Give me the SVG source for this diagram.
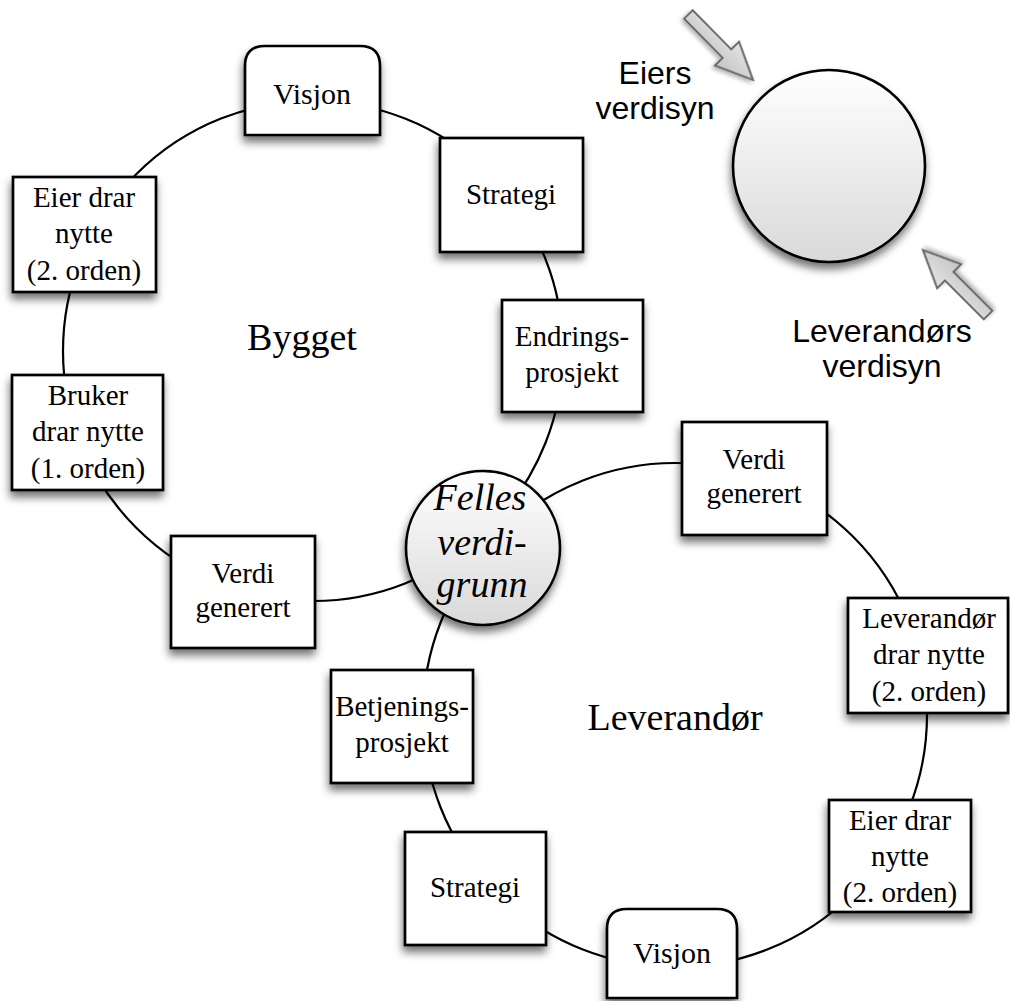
<svg xmlns="http://www.w3.org/2000/svg" width="1010" height="1001" viewBox="0 0 1010 1001">
  <defs>
    <filter id="shadow" x="-20%" y="-20%" width="140%" height="150%">
      <feDropShadow dx="-1" dy="6" stdDeviation="4" flood-color="#000" flood-opacity="0.55"/>
    </filter>
    <filter id="softShadow" x="-20%" y="-20%" width="140%" height="150%">
      <feDropShadow dx="0" dy="3" stdDeviation="2" flood-color="#000" flood-opacity="0.3"/>
    </filter>
    <linearGradient id="ballFill" x1="0" y1="0" x2="0" y2="1">
      <stop offset="0" stop-color="#ffffff"/>
      <stop offset="1" stop-color="#d9d9d9"/>
    </linearGradient>
    <linearGradient id="arrowFill" x1="0" y1="0" x2="0" y2="1">
      <stop offset="0" stop-color="#e4e4e4"/>
      <stop offset="1" stop-color="#c4c4c4"/>
    </linearGradient>
    <!-- block arrow pointing along +x, tip at origin -->
    <path id="blockArrow" d="M0,0 L-37,-17 L-37,-6 L-92,-6 L-92,6 L-37,6 L-37,17 Z"/>
  </defs>
  <style>
    .ring { fill: none; stroke: #000; stroke-width: 2.2; }
    .box { fill: #fff; stroke: #000; stroke-width: 2.7; filter: url(#shadow); }
    .ball { fill: url(#ballFill); stroke: #000; stroke-width: 2.6; filter: url(#shadow); }
    .arrow { fill: url(#arrowFill); stroke: #6a6a6a; stroke-width: 2; stroke-linejoin: miter; filter: url(#softShadow); }
    .t { font-family: "Liberation Serif", "Times New Roman", serif; font-size: 29px; fill: #000; text-anchor: middle; }
    .big { font-family: "Liberation Serif", "Times New Roman", serif; font-size: 38px; fill: #000; text-anchor: middle; }
    .it { font-family: "Liberation Serif", "Times New Roman", serif; font-size: 38px; font-style: italic; fill: #000; text-anchor: middle; }
    .sans { font-family: "Liberation Sans", Arial, sans-serif; font-size: 32px; fill: #000; text-anchor: middle; }
  </style>

  <rect width="1010" height="1001" fill="#fff"/>

  <!-- cycle rings -->
  <g id="connectors">
    <circle class="ring" cx="313" cy="351" r="250"/>
    <circle class="ring" cx="675" cy="715" r="252"/>
  </g>

  <!-- region labels -->
  <text class="big" x="302" y="350">Bygget</text>
  <text class="big" x="675" y="730">Leverandør</text>

  <!-- upper cycle -->
  <g id="visjon-top">
    <path class="box" d="M245,135 V66 Q245,46 265,46 H360 Q380,46 380,66 V135 Z"/>
    <text class="t" x="312" y="104" style="font-size:30px">Visjon</text>
  </g>
  <g id="strategi-top">
    <rect class="box" x="440" y="138" width="143" height="114"/>
    <text class="t" x="511" y="204">Strategi</text>
  </g>
  <g id="endringsprosjekt">
    <rect class="box" x="502" y="300" width="141" height="112"/>
    <text class="t" x="572" y="346">Endrings-</text>
    <text class="t" x="572" y="382">prosjekt</text>
  </g>
  <g id="eier-drar-nytte-left">
    <rect class="box" x="13" y="177" width="143" height="115"/>
    <text class="t" x="84" y="207">Eier drar</text>
    <text class="t" x="84" y="243">nytte</text>
    <text class="t" x="84" y="280">(2. orden)</text>
  </g>
  <g id="bruker-drar-nytte">
    <rect class="box" x="12" y="375" width="151" height="115"/>
    <text class="t" x="88" y="405">Bruker</text>
    <text class="t" x="88" y="441">drar nytte</text>
    <text class="t" x="88" y="478">(1. orden)</text>
  </g>
  <g id="verdi-generert-left">
    <rect class="box" x="171" y="536" width="144" height="112"/>
    <text class="t" x="243" y="583">Verdi</text>
    <text class="t" x="243" y="617">generert</text>
  </g>

  <!-- lower cycle -->
  <g id="verdi-generert-right">
    <rect class="box" x="682" y="422" width="145" height="113"/>
    <text class="t" x="754" y="469">Verdi</text>
    <text class="t" x="754" y="503">generert</text>
  </g>
  <g id="leverandor-drar-nytte">
    <rect class="box" x="848" y="598" width="160" height="115"/>
    <text class="t" x="929" y="628">Leverandør</text>
    <text class="t" x="929" y="664">drar nytte</text>
    <text class="t" x="929" y="701">(2. orden)</text>
  </g>
  <g id="eier-drar-nytte-right">
    <rect class="box" x="829" y="800" width="142" height="112"/>
    <text class="t" x="900" y="830">Eier drar</text>
    <text class="t" x="900" y="866">nytte</text>
    <text class="t" x="900" y="902">(2. orden)</text>
  </g>
  <g id="visjon-bottom">
    <path class="box" d="M607,998 V929 Q607,909 627,909 H717 Q737,909 737,929 V998 Z"/>
    <text class="t" x="672" y="963" style="font-size:30px">Visjon</text>
  </g>
  <g id="strategi-bottom">
    <rect class="box" x="405" y="832" width="141" height="113"/>
    <text class="t" x="475" y="897">Strategi</text>
  </g>
  <g id="betjeningsprosjekt">
    <rect class="box" x="331" y="670" width="142" height="113"/>
    <text class="t" x="402" y="716">Betjenings-</text>
    <text class="t" x="402" y="752">prosjekt</text>
  </g>

  <!-- shared core -->
  <g id="felles-verdigrunn">
    <circle class="ball" cx="483" cy="548" r="77"/>
    <text class="it" x="480" y="510">Felles</text>
    <text class="it" x="482" y="555">verdi-</text>
    <text class="it" x="482" y="597">grunn</text>
  </g>

  <!-- value-view legend -->
  <g id="verdisyn-ball">
    <circle class="ball" cx="829" cy="166" r="96"/>
  </g>
  <g id="eiers-verdisyn">
    <use href="#blockArrow" class="arrow" transform="translate(753,80) rotate(45.4)"/>
    <text class="sans" x="655" y="84">Eiers</text>
    <text class="sans" x="655" y="119">verdisyn</text>
  </g>
  <g id="leverandors-verdisyn">
    <use href="#blockArrow" class="arrow" transform="translate(923,250) rotate(225)"/>
    <text class="sans" x="882" y="342">Leverandørs</text>
    <text class="sans" x="882" y="377">verdisyn</text>
  </g>
</svg>
